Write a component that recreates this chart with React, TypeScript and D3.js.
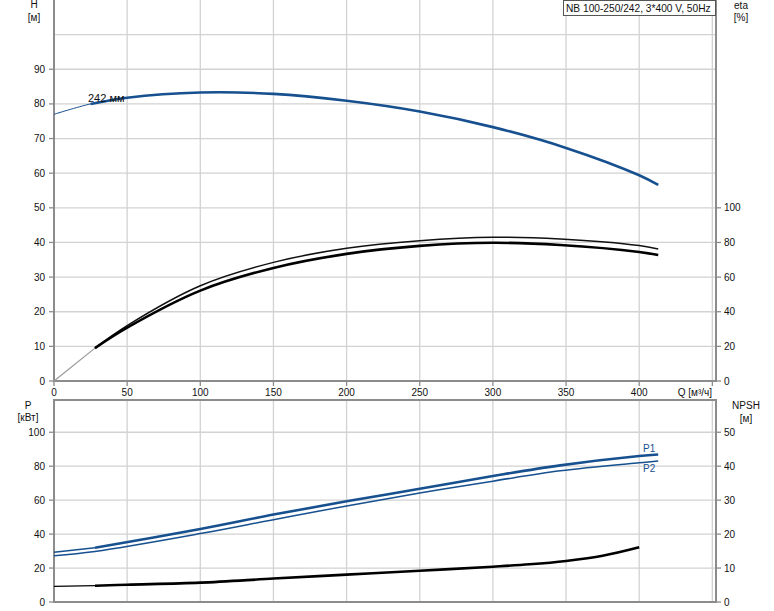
import React from "react";
import * as d3 from "d3";

// ---- data ----
const qTicks = [0, 50, 100, 150, 200, 250, 300, 350, 400];
const hTicks = [0, 10, 20, 30, 40, 50, 60, 70, 80, 90];
const etaTicks = [0, 20, 40, 60, 80, 100];
const pTicks = [0, 20, 40, 60, 80, 100];
const npshTicks = [0, 10, 20, 30, 40, 50];

const hQ = [0, 25, 50, 100, 150, 200, 250, 300, 350, 400, 413];
const hVal = [77, 80, 81.8, 83.3, 82.9, 80.9, 77.8, 73.3, 67.3, 59.4, 56.6];

const etaQ = [0, 28, 50, 100, 150, 200, 250, 300, 346, 400, 413];
const etaLow = [0, 19, 30.8, 52.2, 65.3, 73.4, 78, 79.8, 78.5, 74.5, 72.7];
const etaUp = [0, 19, 32, 55, 68.5, 76.6, 81, 83, 82, 78.2, 76.2];

const pQ = [0, 28, 100, 150, 200, 250, 300, 346, 400, 413];
const p1Val = [29.3, 32, 43, 51.5, 59.3, 66.7, 74.2, 80.5, 86, 86.9];
const p2Val = [27.3, 29.8, 40.3, 48.5, 56.6, 64.2, 71.2, 77.3, 82, 83];

const npshQ = [0, 28, 50, 100, 150, 200, 250, 300, 325, 350, 375, 400];
const npshVal = [4.6, 4.8, 5.1, 5.7, 6.9, 8.05, 9.2, 10.4, 11.1, 12.1, 13.6, 16.1];

const title = "NB 100-250/242, 3*400 V, 50Hz";
const curveLabel = "242 мм";

const BLUE = "#17508f";
const GRID = "#d2d2d2";
const AXIS = "#8c8c8c";
const FONT = "'Liberation Sans', Arial, sans-serif";

export default function App() {
  const x = d3.scaleLinear().domain([0, 452.5]).range([54, 716]);
  const yH = d3.scaleLinear().domain([0, 110]).range([381, 0]);
  const yEta = d3.scaleLinear().domain([0, 220]).range([381, 0]);
  const yP = d3.scaleLinear().domain([0, 119]).range([602, 400]);
  const yN = d3.scaleLinear().domain([0, 59.5]).range([602, 400]);

  const build = (pts: [number, number][], ys: d3.ScaleLinear<number, number>) =>
    d3
      .line<[number, number]>()
      .x((d) => x(d[0]))
      .y((d) => ys(d[1]))
      .curve(d3.curveCatmullRom.alpha(0.5))(pts) as string;
  const zip = (qs: number[], vs: number[]) => qs.map((q, i) => [q, vs[i]] as [number, number]);
  const mk = (qs: number[], vs: number[], ys: d3.ScaleLinear<number, number>, from = 0) =>
    build(zip(qs, vs).filter((d) => d[0] >= from), ys);
  const mkUpTo = (qs: number[], vs: number[], ys: d3.ScaleLinear<number, number>, to: number) =>
    build(zip(qs, vs).filter((d) => d[0] <= to), ys);

  const gridQ = [50, 100, 150, 200, 250, 300, 350, 400, 450];
  const gridH = [10, 20, 30, 40, 50, 60, 70, 80, 90, 100];
  const gridP = [20, 40, 60, 80, 100];

  const tickStyle = { fontFamily: FONT, fontSize: 10, fill: "#111" } as const;

  return (
    <svg width={774} height={611} style={{ position: "absolute", left: 0, top: 0, background: "#fff" }}>
      {/* grids top */}
      {gridQ.map((q) => (
        <line key={"gq" + q} x1={x(q)} x2={x(q)} y1={0} y2={381} stroke={GRID} strokeWidth={1.3} />
      ))}
      {gridH.map((h) => (
        <line key={"gh" + h} x1={54} x2={716} y1={yH(h)} y2={yH(h)} stroke={GRID} strokeWidth={1.3} />
      ))}
      {/* grids bottom */}
      {gridQ.map((q) => (
        <line key={"gqb" + q} x1={x(q)} x2={x(q)} y1={400} y2={602} stroke={GRID} strokeWidth={1.3} />
      ))}
      {gridP.map((p) => (
        <line key={"gp" + p} x1={54} x2={716} y1={yP(p)} y2={yP(p)} stroke={GRID} strokeWidth={1.3} />
      ))}

      {/* axes top */}
      <line x1={54} x2={54} y1={0} y2={382} stroke={AXIS} strokeWidth={2} />
      <line x1={716} x2={716} y1={0} y2={382} stroke={AXIS} strokeWidth={2} />
      <line x1={53} x2={717} y1={381} y2={381} stroke={AXIS} strokeWidth={2} />
      {hTicks.map((h) => (
        <g key={"ht" + h}>
          <line x1={49} x2={54} y1={yH(h)} y2={yH(h)} stroke={AXIS} strokeWidth={1.3} />
          <text x={45} y={yH(h) + 3.5} textAnchor="end" style={tickStyle}>{h}</text>
        </g>
      ))}
      {etaTicks.map((e) => (
        <g key={"et" + e}>
          <line x1={716} x2={721} y1={yEta(e)} y2={yEta(e)} stroke={AXIS} strokeWidth={1.3} />
          <text x={724} y={yEta(e) + 3.5} textAnchor="start" style={tickStyle}>{e}</text>
        </g>
      ))}
      {[...qTicks, 450].map((q) => (
        <line key={"qt" + q} x1={x(q)} x2={x(q)} y1={381} y2={386} stroke={AXIS} strokeWidth={1.3} />
      ))}
      {qTicks.map((q) => (
        <text key={"ql" + q} x={x(q)} y={396} textAnchor="middle" style={tickStyle}>{q}</text>
      ))}
      <text x={712} y={396} textAnchor="end" style={tickStyle}>Q [м³/ч]</text>

      {/* axes bottom */}
      <line x1={54} x2={54} y1={399} y2={603} stroke={AXIS} strokeWidth={2} />
      <line x1={716} x2={716} y1={399} y2={603} stroke={AXIS} strokeWidth={2} />
      <line x1={53} x2={717} y1={400} y2={400} stroke={AXIS} strokeWidth={2} />
      <line x1={53} x2={717} y1={602} y2={602} stroke={AXIS} strokeWidth={2} />
      {pTicks.map((p) => (
        <g key={"pt" + p}>
          <line x1={49} x2={54} y1={yP(p)} y2={yP(p)} stroke={AXIS} strokeWidth={1.3} />
          <text x={45} y={yP(p) + 3.5} textAnchor="end" style={tickStyle}>{p}</text>
        </g>
      ))}
      {npshTicks.map((n) => (
        <g key={"nt" + n}>
          <line x1={716} x2={721} y1={yN(n)} y2={yN(n)} stroke={AXIS} strokeWidth={1.3} />
          <text x={724} y={yN(n) + 3.5} textAnchor="start" style={tickStyle}>{n}</text>
        </g>
      ))}

      {/* axis titles */}
      <text x={34} y={8} textAnchor="middle" style={tickStyle}>H</text>
      <text x={34} y={21} textAnchor="middle" style={tickStyle}>[м]</text>
      <text x={741} y={9} textAnchor="middle" style={tickStyle}>eta</text>
      <text x={741} y={21} textAnchor="middle" style={tickStyle}>[%]</text>
      <text x={28} y={409} textAnchor="middle" style={tickStyle}>P</text>
      <text x={28} y={421} textAnchor="middle" style={tickStyle}>[кВт]</text>
      <text x={746} y={409} textAnchor="middle" style={tickStyle}>NPSH</text>
      <text x={746} y={422} textAnchor="middle" style={tickStyle}>[м]</text>

      {/* H curve */}
      <path d={mk(hQ, hVal, yH)} fill="none" stroke={BLUE} strokeWidth={1} />
      <path d={mk(hQ, hVal, yH, 25)} fill="none" stroke={BLUE} strokeWidth={2.6} />
      <text x={88} y={102} style={{ fontFamily: FONT, fontSize: 11, fill: "#111" }}>{curveLabel}</text>

      {/* eta curves */}
      <path d={mkUpTo(etaQ, etaLow, yEta, 28)} fill="none" stroke="#999" strokeWidth={1.2} />
      <path d={mk(etaQ, etaUp, yEta, 28)} fill="none" stroke="#111" strokeWidth={1.5} />
      <path d={mk(etaQ, etaLow, yEta, 28)} fill="none" stroke="#000" strokeWidth={2.6} />

      {/* P curves */}
      <path d={mk(pQ, p2Val, yP)} fill="none" stroke={BLUE} strokeWidth={1.5} />
      <path d={mkUpTo(pQ, p1Val, yP, 28)} fill="none" stroke={BLUE} strokeWidth={1.5} />
      <path d={mk(pQ, p1Val, yP, 28)} fill="none" stroke={BLUE} strokeWidth={2.6} />
      <text x={643} y={452} style={{ fontFamily: FONT, fontSize: 10, fill: BLUE }}>P1</text>
      <text x={643} y={472} style={{ fontFamily: FONT, fontSize: 10, fill: BLUE }}>P2</text>

      {/* NPSH */}
      <path d={mkUpTo(npshQ, npshVal, yN, 28)} fill="none" stroke="#000" strokeWidth={1.2} />
      <path d={mk(npshQ, npshVal, yN, 28)} fill="none" stroke="#000" strokeWidth={2.6} />

      {/* title box */}
      <rect x={563.5} y={0.5} width={152} height={15} fill="#fff" stroke="#555" strokeWidth={1} />
      <text x={566} y={11.5} style={{ fontFamily: FONT, fontSize: 10.2, fill: "#111" }}>{title}</text>
    </svg>
  );
}
